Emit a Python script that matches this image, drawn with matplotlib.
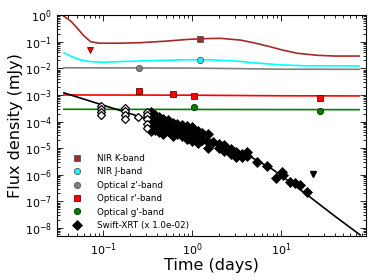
import numpy as np
import matplotlib
matplotlib.use("Agg")
import matplotlib.pyplot as plt

# model curves (time in days, flux in mJy)
k_mod_t = [0.036, 0.043, 0.051, 0.06, 0.072, 0.09, 0.15, 0.26, 0.5, 0.88, 1.5, 2.1, 3.5, 5, 7.5, 10, 15, 25, 40, 75]
k_mod_f = [0.9, 0.6, 0.32, 0.17, 0.1, 0.088, 0.088, 0.092, 0.105, 0.122, 0.132, 0.134, 0.115, 0.09, 0.065, 0.05, 0.037, 0.031, 0.029, 0.029]
j_mod_t = [0.036, 0.045, 0.055, 0.07, 0.1, 0.26, 0.88, 1.5, 3, 5, 10, 18, 75]
j_mod_f = [0.038, 0.027, 0.021, 0.018, 0.017, 0.019, 0.021, 0.021, 0.019, 0.016, 0.0135, 0.0125, 0.0123]
z_mod_t = [0.036, 1, 3, 10, 75]
z_mod_f = [0.0105, 0.0102, 0.0098, 0.0093, 0.0092]
r_mod_t = [0.036, 1, 10, 75]
r_mod_f = [1.0e-3, 9.8e-4, 9.3e-4, 9.2e-4]
g_mod_t = [0.036, 75]
g_mod_f = [2.9e-4, 2.8e-4]
x_mod_t = [0.036, 0.1, 0.3, 1, 2, 4, 8, 19.4, 40, 77]
x_mod_f = [1.2e-3, 4.1e-4, 1.3e-4, 3.6e-5, 1.6e-5, 6e-6, 1.6e-6, 1.8e-7, 2.8e-8, 5.5e-9]

# photometry
k_t, k_f, k_e = [1.23], [0.126], [0.01]
j_t, j_f, j_e = [1.23], [0.021], [0.003]
z_t, z_f, z_e = [0.254], [0.0104], [0.001]
r_t = [0.254, 0.61, 1.05, 27.4]
r_f = [1.4e-3, 1.1e-3, 9.3e-4, 7.8e-4]
r_e = [1e-4, 1e-4, 8e-5, 1.5e-4]
r_ul_t, r_ul_f = [0.0715], [0.049]
g_t = [1.05, 27.4]
g_f = [3.6e-4, 2.5e-4]

# Swift-XRT (scaled by 1e-2)
xo_t = [0.093, 0.093, 0.093, 0.093, 0.177, 0.177, 0.177, 0.177, 0.247,
        0.31, 0.31, 0.31, 0.31, 0.31]
xo_f = [4.0e-4, 3.0e-4, 2.2e-4, 1.7e-4, 3.2e-4, 2.4e-4, 1.7e-4, 1.2e-4, 1.5e-4,
        2.3e-4, 1.7e-4, 1.2e-4, 8e-5, 5.5e-5]
xf_t = [0.34, 0.34, 0.34, 0.34, 0.34, 0.38, 0.38, 0.38, 0.38,
        0.42, 0.42, 0.42, 0.42, 0.47, 0.47, 0.47, 0.47, 0.53, 0.53, 0.53,
        0.6, 0.6, 0.6, 0.6, 0.68, 0.68, 0.68, 0.77, 0.77, 0.77,
        0.87, 0.87, 0.87, 1.0, 1.0, 1.0, 1.15, 1.15, 1.15, 1.3, 1.3,
        1.5, 1.5, 1.5, 1.7, 2.0, 2.0, 2.3, 2.3, 2.7, 2.7, 3.1, 3.1, 3.6, 3.6,
        4.1, 4.1, 5.4, 7.0, 8.8, 10.2, 10.5, 12.6, 14.4, 16.3, 19.6]
xf_f = [2.2e-4, 1.5e-4, 1.0e-4, 7e-5, 4.5e-5, 1.8e-4, 1.2e-4, 8e-5, 5e-5,
        1.5e-4, 1.0e-4, 6.5e-5, 4e-5, 1.3e-4, 8.5e-5, 5.5e-5, 3.5e-5, 1.1e-4, 7e-5, 4.5e-5,
        9e-5, 6e-5, 4e-5, 2.8e-5, 8e-5, 5e-5, 3.3e-5, 7.5e-5, 4.5e-5, 2.8e-5,
        7e-5, 4e-5, 2.3e-5, 6e-5, 3.2e-5, 1.8e-5, 4.5e-5, 2.6e-5, 1.6e-5, 3.8e-5, 2e-5,
        3.5e-5, 1.7e-5, 1e-5, 1.7e-5, 1.5e-5, 1e-5, 1.3e-5, 8e-6, 9e-6, 6e-6, 7e-6, 4.5e-6, 6e-6, 4.5e-6,
        7.4e-6, 5e-6, 3e-6, 2.1e-6, 7.9e-7, 1.3e-6, 1e-6, 5.6e-7, 5.1e-7, 4.3e-7, 2.2e-7]
x_ul_t, x_ul_f = [22.9], [1.1e-6]

y_ticks = [1e-8, 1e-7, 1e-6, 1e-5, 1e-4, 1e-3, 1e-2, 1e-1, 1]
x_ticks = [0.1, 1, 10]

K_COL = '#a52a2a'
J_COL = 'cyan'
Z_COL = 'gray'
R_COL = 'red'
G_COL = 'green'


def main():
    fig = plt.figure(figsize=(3.74, 2.8), dpi=100)
    ax = fig.add_axes([0.152, 0.157, 0.827, 0.789])

    # models
    ax.plot(k_mod_t, k_mod_f, color=K_COL, lw=1.2)
    ax.plot(j_mod_t, j_mod_f, color=J_COL, lw=1.2)
    ax.plot(z_mod_t, z_mod_f, color=Z_COL, lw=1.2)
    ax.plot(r_mod_t, r_mod_f, color=R_COL, lw=1.2)
    ax.plot(g_mod_t, g_mod_f, color=G_COL, lw=1.2)
    ax.plot(x_mod_t, x_mod_f, color='k', lw=1.2)

    # data
    ms = 4.5
    hk = ax.errorbar(k_t, k_f, yerr=k_e, fmt='s', color=K_COL, mec='#555555', ms=ms, mew=0.6,
                     elinewidth=0.8)
    hj = ax.errorbar(j_t, j_f, yerr=j_e, fmt='o', color=J_COL, mec='#555555', ecolor=J_COL, ms=ms, mew=0.6,
                     elinewidth=0.8)
    hz = ax.errorbar(z_t, z_f, yerr=z_e, fmt='o', color=Z_COL, mec='#555555', ms=ms, mew=0.6,
                     elinewidth=0.8)
    hr = ax.errorbar(r_t, r_f, yerr=r_e, fmt='s', color=R_COL, mec='#7a0000', ms=ms, mew=0.6,
                     elinewidth=0.8)
    ax.plot(r_ul_t, r_ul_f, 'v', color=R_COL, mec='#7a0000', ms=ms, mew=0.6)
    hg, = ax.plot(g_t, g_f, 'o', color=G_COL, mec='#003300', ms=ms, mew=0.6)

    hx, = ax.plot(xf_t, xf_f, 'D', color='k', ms=5.5, mew=0.5, ls='none')
    ax.plot(xo_t, xo_f, 'D', mfc='white', mec='k', ms=4.5, mew=0.9, ls='none')
    ax.plot(x_ul_t, x_ul_f, 'v', color='k', ms=5)

    ax.set_xscale('log')
    ax.set_yscale('log')
    ax.set_xlim(0.03, 90)
    ax.set_ylim(5e-9, 1)
    ax.set_yticks(y_ticks)
    ax.set_xticks(x_ticks)
    ax.yaxis.set_minor_locator(matplotlib.ticker.LogLocator(base=10, subs=np.arange(2, 10), numticks=20))
    ax.yaxis.set_minor_formatter(matplotlib.ticker.NullFormatter())
    ax.xaxis.set_minor_formatter(matplotlib.ticker.NullFormatter())
    ax.set_xlabel('Time (days)', fontsize=11.5, labelpad=0)
    ax.set_ylabel('Flux density (mJy)', fontsize=11.5, labelpad=1)
    ax.tick_params(which='both', direction='in', top=True, right=True, labelsize=8, width=0.6)
    ax.tick_params(which='major', length=4)
    ax.tick_params(which='minor', length=2)
    for sp in ax.spines.values():
        sp.set_linewidth(0.8)

    handles = [hk[0], hj[0], hz[0], hr[0], hg, hx]
    labels = ['NIR K-band', 'NIR J-band', "Optical z'-band", "Optical r'-band",
              "Optical g'-band", 'Swift-XRT (x 1.0e-02)']
    ax.legend(handles, labels, loc='lower left', frameon=False, fontsize=6.3, numpoints=1,
              handlelength=1.5, handletextpad=1.5, labelspacing=0.5, borderaxespad=0.3,
              bbox_to_anchor=(0.025, 0.0))

    fig.savefig('out.png', dpi=100)


if __name__ == "__main__":
    main()
